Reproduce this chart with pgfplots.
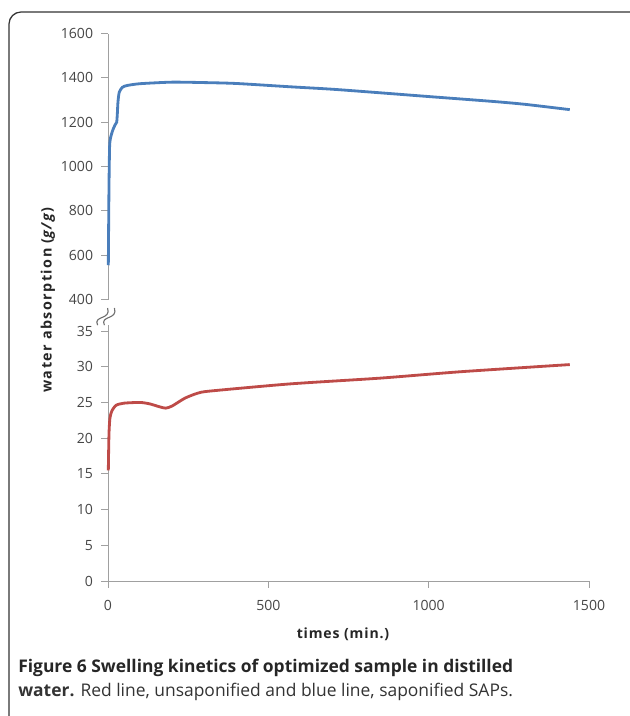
\documentclass[border=0pt]{standalone}
\usepackage{fontspec}
\setmainfont{Open Sans}
\usepackage{pgfplots}
\pgfplotsset{compat=1.18}

\definecolor{swblue}{RGB}{74,126,187}
\definecolor{swred}{RGB}{190,75,72}
\definecolor{axgray}{RGB}{160,160,160}
\definecolor{lblgray}{RGB}{70,70,70}

\pgfplotsset{excel/.style={
    scale only axis,
    width=120.25mm,
    xmin=0, xmax=1500,
    axis line style={axgray, line width=0.7pt},
    tick style={axgray, line width=0.7pt},
    major tick length=1.7mm,
    tick align=outside,
    ticklabel style={font=\fontsize{10}{12}\selectfont, text=lblgray},
    yticklabel style={xshift=-0.8mm},
    xticklabel style={yshift=-1.8mm},
    /pgf/number format/assume math mode=true,
    /pgf/number format/1000 sep={},
    clip=false,
}}

\begin{document}
\begin{tikzpicture}
\path[use as bounding box] (0,0) rectangle (157.25mm,-179mm);
% frame
\draw[line width=0.9pt, black!80, rounded corners=3mm] (2.25mm,-182mm) -- (2.25mm,-3mm) -- (160mm,-3mm);

% top part: saponified
\begin{axis}[excel,
    at={(27mm,-74.9mm)}, anchor=south west,
    height=66.5mm,
    ymin=400, ymax=1600,
    ytick={400,600,...,1600},
    axis y line*=left, axis x line=none,
]
\addplot[swblue, line width=2pt, smooth, tension=0.4] coordinates {
    (1,555) (3,900) (5,1090) (8,1130) (15,1165) (22,1188) (27,1200)
    (29,1235) (31,1290) (35,1335) (45,1358) (60,1366) (100,1374)
    (200,1381) (300,1379) (400,1375) (569,1360) (700,1349) (848,1333)
    (1000,1316) (1200,1294) (1300,1281) (1440,1257)
};
\end{axis}

% bottom part: unsaponified
\begin{axis}[excel,
    at={(27mm,-145.25mm)}, anchor=south west,
    height=62.5mm,
    ymin=0, ymax=35,
    ytick={0,5,...,35},
    xtick={0,500,1000,1500},
    axis y line*=left, axis x line*=bottom,
]
\addplot[swred, line width=2pt, smooth, tension=0.4] coordinates {
    (1,15.5) (3,20.5) (6,22.8) (12,23.8) (25,24.6) (50,24.9) (100,25.0)
    (130,24.8) (160,24.4) (180,24.2) (200,24.5) (240,25.6) (280,26.3)
    (320,26.6) (569,27.6) (848,28.4) (1100,29.3) (1440,30.3)
};
\draw[axgray, line width=0.7pt] (axis cs:0,35) -- ++(0,1.5mm);
\end{axis}

% axis break
\foreach \d in {0,1.7} {
  \draw[axgray!70!black, line width=0.8pt] (24.4mm+\d mm,-81.3mm) .. controls (23.2mm+\d mm,-78.8mm) and (27.9mm+\d mm,-80mm) .. (26.9mm+\d mm,-77mm);
}

% labels
\node[font=\bfseries\fontsize{10}{12}\selectfont\addfontfeature{LetterSpace=6}, text=black!85] at (85.75mm,-158.6mm) {times (min.)};
\node[font=\bfseries\fontsize{10.2}{12}\selectfont\addfontfeature{LetterSpace=10}, text=black!85, rotate=90] at (12mm,-75mm) {water absorption (\textit{g/g})};

% caption
\node[anchor=base west, inner sep=0pt, font=\fontsize{12.4}{15}\selectfont, text=black!85] at (4.5mm,-168mm) {\bfseries Figure 6 Swelling kinetics of optimized sample in distilled};
\node[anchor=base west, inner sep=0pt, font=\fontsize{12.4}{15}\selectfont, text=black!80] at (4.5mm,-174mm) {\textbf{water.} Red line, unsaponified and blue line, saponified SAPs.};
\end{tikzpicture}
\end{document}
